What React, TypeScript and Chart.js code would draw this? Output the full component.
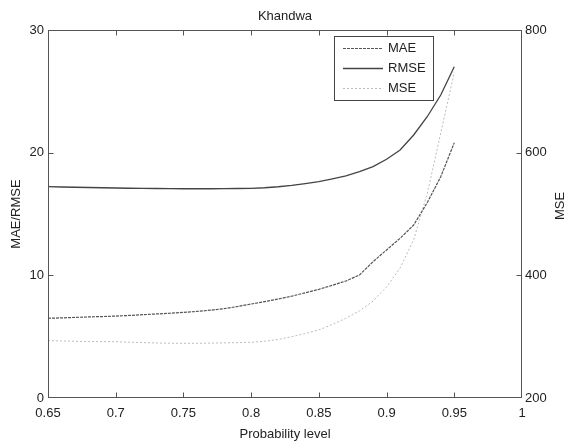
import React, { useEffect, useRef } from "react";
import { Chart, registerables } from "chart.js";

Chart.register(...registerables);

const probabilityLevels = [
  0.65, 0.66, 0.67, 0.68, 0.69, 0.7, 0.71, 0.72, 0.73, 0.74, 0.75, 0.76, 0.77, 0.78, 0.79, 0.8,
  0.81, 0.82, 0.83, 0.84, 0.85, 0.86, 0.87, 0.88, 0.89, 0.9, 0.91, 0.92, 0.93, 0.94, 0.95,
];

const maeValues = [
  6.5, 6.53, 6.57, 6.61, 6.64, 6.68, 6.73, 6.79, 6.85, 6.91, 6.98, 7.06, 7.16, 7.28, 7.46, 7.66,
  7.86, 8.07, 8.3, 8.58, 8.86, 9.19, 9.54, 10.03, 11.11, 12.07, 13.02, 14.1, 15.92, 18.04, 20.81,
];

const rmseValues = [
  17.23, 17.2, 17.18, 17.16, 17.14, 17.12, 17.1, 17.09, 17.08, 17.07, 17.06, 17.06, 17.06, 17.07,
  17.08, 17.09, 17.14, 17.22, 17.33, 17.48, 17.64, 17.86, 18.1, 18.45, 18.86, 19.46, 20.22, 21.44,
  22.93, 24.7, 27.01,
];

const mseValues = [
  293.5, 293.0, 292.5, 292.0, 291.9, 291.8, 291.0, 290.3, 289.8, 289.3, 289.1, 289.2, 289.5,
  289.9, 290.3, 290.8, 292.5, 295.5, 300, 305, 311, 320, 330, 342, 358, 381, 412, 458, 533, 632,
  731,
];

const chartTitle = "Khandwa";
const xAxisTitle = "Probability level";
const leftAxisTitle = "MAE/RMSE";
const rightAxisTitle = "MSE";

const FONT = "'Liberation Sans', Arial, sans-serif";
const TEXT = "#222";
const AXIS = "#555";

const seriesStyles = [
  { label: "MAE", color: "#555", width: 1.2, dash: [3, 1] },
  { label: "RMSE", color: "#444", width: 1.3, dash: [] as number[] },
  { label: "MSE", color: "#bbb", width: 1, dash: [2, 2] },
];

const decorPlugin = {
  id: "decor",
  afterDraw(chart: any) {
    const { ctx, chartArea, scales } = chart;
    const { left, right, top, bottom } = chartArea;
    ctx.save();
    // box
    ctx.strokeStyle = AXIS;
    ctx.lineWidth = 1;
    const L = Math.round(left) + 0.5;
    const R = Math.round(right) - 0.5;
    const T = Math.round(top) + 0.5;
    const B = Math.round(bottom) - 0.5;
    ctx.strokeRect(L, T, R - L, B - T);
    const tl = 5;
    ctx.beginPath();
    scales.x.ticks.forEach((t: any) => {
      const px = Math.round(scales.x.getPixelForValue(t.value)) + 0.5;
      if (px <= L + 1 || px >= R - 1) return;
      ctx.moveTo(px, B);
      ctx.lineTo(px, B - tl);
      ctx.moveTo(px, T);
      ctx.lineTo(px, T + tl);
    });
    scales.y.ticks.forEach((t: any) => {
      const py = Math.round(scales.y.getPixelForValue(t.value)) + 0.5;
      if (py <= T + 1 || py >= B - 1) return;
      ctx.moveTo(L, py);
      ctx.lineTo(L + tl, py);
    });
    scales.y2.ticks.forEach((t: any) => {
      const py = Math.round(scales.y2.getPixelForValue(t.value)) + 0.5;
      if (py <= T + 1 || py >= B - 1) return;
      ctx.moveTo(R, py);
      ctx.lineTo(R - tl, py);
    });
    ctx.stroke();

    // titles
    ctx.fillStyle = TEXT;
    ctx.font = `13px ${FONT}`;
    ctx.textAlign = "center";
    ctx.textBaseline = "middle";
    ctx.fillText(chartTitle, (left + right) / 2, 16);
    ctx.fillText(xAxisTitle, (left + right) / 2, 434);
    ctx.save();
    ctx.translate(16, (top + bottom) / 2);
    ctx.rotate(-Math.PI / 2);
    ctx.fillText(leftAxisTitle, 0, 0);
    ctx.restore();
    ctx.save();
    ctx.translate(560, 206);
    ctx.rotate(-Math.PI / 2);
    ctx.fillText(rightAxisTitle, 0, 0);
    ctx.restore();

    // legend
    const bx = 334, by = 36, bw = 99, bh = 64;
    ctx.fillStyle = "#fff";
    ctx.fillRect(bx, by, bw, bh);
    ctx.strokeStyle = "#444";
    ctx.strokeRect(bx + 0.5, by + 0.5, bw, bh);
    seriesStyles.forEach((s, i) => {
      const y = 48 + i * 20 + 0.5;
      ctx.beginPath();
      ctx.strokeStyle = s.color;
      ctx.lineWidth = s.width;
      ctx.setLineDash(s.dash);
      ctx.moveTo(343, y);
      ctx.lineTo(383, y);
      ctx.stroke();
      ctx.setLineDash([]);
      ctx.fillStyle = TEXT;
      ctx.textAlign = "left";
      ctx.fillText(s.label, 388, y);
    });
    ctx.restore();
  },
};

export default function App() {
  const ref = useRef<HTMLCanvasElement | null>(null);
  useEffect(() => {
    if (!ref.current) return;
    const seriesValues = [maeValues, rmseValues, mseValues];
    const axes = ["y", "y", "y2"];
    const chart = new Chart(ref.current, {
      type: "line",
      data: {
        datasets: seriesStyles.map((s, i) => ({
          label: s.label,
          data: probabilityLevels.map((p, j) => ({ x: p, y: seriesValues[i][j] })),
          borderColor: s.color,
          borderWidth: s.width,
          borderDash: s.dash,
          pointRadius: 0,
          fill: false,
          tension: 0,
          yAxisID: axes[i],
        })),
      },
      options: {
        animation: false,
        responsive: false,
        devicePixelRatio: 1,
        layout: { padding: { top: 30, left: 0, right: 0, bottom: 0 } },
        plugins: { legend: { display: false }, title: { display: false }, tooltip: { enabled: false } },
        scales: {
          x: {
            type: "linear",
            min: 0.65,
            max: 1,
            grid: { display: false, drawTicks: false },
            border: { display: false },
            ticks: {
              stepSize: 0.05,
              padding: 8,
              color: TEXT,
              font: { family: FONT, size: 13 },
              maxRotation: 0,
              autoSkip: false,
              callback: (v: any) => String(Number(Number(v).toFixed(2))),
            },
            afterFit: (s: any) => {
              s.height = 45;
            },
          },
          y: {
            position: "left",
            min: 0,
            max: 30,
            grid: { display: false, drawTicks: false },
            border: { display: false },
            ticks: { stepSize: 10, padding: 4, color: TEXT, font: { family: FONT, size: 13 } },
            afterFit: (s: any) => {
              s.width = 48;
            },
          },
          y2: {
            position: "right",
            min: 200,
            max: 800,
            grid: { display: false, drawTicks: false },
            border: { display: false },
            ticks: { stepSize: 200, padding: 3, color: TEXT, font: { family: FONT, size: 13 } },
            afterFit: (s: any) => {
              s.width = 45;
            },
          },
        },
      },
      plugins: [decorPlugin],
    });
    return () => chart.destroy();
  }, []);
  return (
    <div style={{ position: "absolute", left: 0, top: 0, width: 567, height: 443, background: "#fff" }}>
      <canvas ref={ref} width={567} height={443} style={{ display: "block" }} />
    </div>
  );
}
